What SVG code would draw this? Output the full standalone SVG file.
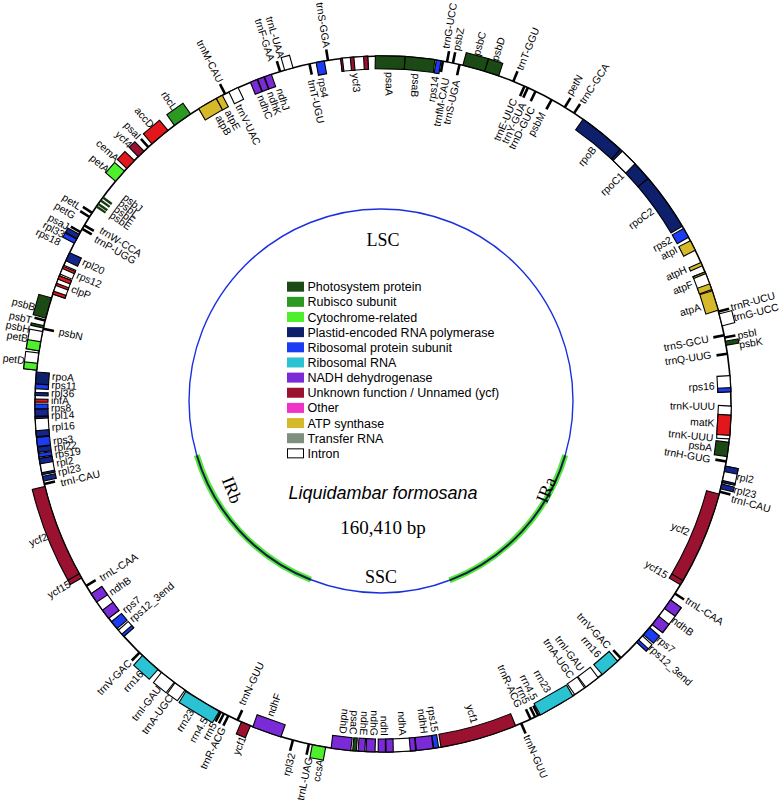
<svg xmlns="http://www.w3.org/2000/svg" xmlns:xlink="http://www.w3.org/1999/xlink" width="779" height="805" viewBox="0 0 779 805">
<style>
.bg{fill:#fff}
.ring{fill:none;stroke:#000;stroke-width:1.6}
.gn rect,.gn path{stroke:#000;stroke-width:1.1}
.tk{stroke:#000;stroke-width:2.6;fill:none}
.tg{stroke:#163a10;stroke-width:2.4;fill:none}
.ps{fill:#1b4a15}.rb{fill:#2c9a22}.cy{fill:#4ef02c}.po{fill:#0e1f6b}.rp{fill:#1b3cf2}.rl{fill:#14268c}
.rr{fill:#2bc3d3}.nd{fill:#7a2ad6}.yc{fill:#9b1230}.ot{fill:#e3161c}.at{fill:#d6b92a}.in{fill:#fff}
.lab text{font-family:"Liberation Sans",Arial,Helvetica,sans-serif;font-size:10.4px;dominant-baseline:central;fill:#000}
.s{text-anchor:start}.e{text-anchor:end}
.lg text{font-family:"Liberation Sans",Arial,sans-serif;font-size:12.5px}
.sr{font-family:"Liberation Serif","Times New Roman",serif;fill:#000;text-anchor:middle}
</style>
<defs>
<path id="to" d="M0-348V-359" class="tk"/>
<path id="ti" d="M0-348V-337" class="tk"/>
<path id="tg" d="M0-348V-337" class="tg"/>
</defs>
<rect class="bg" width="779" height="805"/>

<g id="inner">
<circle cx="381" cy="401" r="192" fill="none" stroke="#1a30e0" stroke-width="1.4"/>
<path d="M310.9 579.8A192 192 0 0 1 196.8 455.2" fill="none" stroke="#55e83a" stroke-width="6"/>
<path d="M565.2 455.2A192 192 0 0 1 449.5 580.4" fill="none" stroke="#55e83a" stroke-width="6"/>
<path d="M310.9 579.8A192 192 0 0 1 196.8 455.2" fill="none" stroke="#15204a" stroke-width="2"/>
<path d="M565.2 455.2A192 192 0 0 1 449.5 580.4" fill="none" stroke="#15204a" stroke-width="2"/>
<text class="sr" x="383" y="246" font-size="18">LSC</text>
<text class="sr" x="381" y="583" font-size="18">SSC</text>
<text class="sr" font-size="18" transform="translate(232,490) rotate(68)" dy="6">IRb</text>
<text class="sr" font-size="18" transform="translate(546,490) rotate(-68)" dy="6">IRa</text>
<text x="383" y="499" font-family="Liberation Sans, Arial, sans-serif" font-style="italic" font-size="18" text-anchor="middle">Liquidambar formosana</text>
<text class="sr" x="383" y="534" font-size="19">160,410 bp</text>
</g>

<g id="legend" class="lg">
<rect x="287" y="281.7" width="17" height="10" class="ps"/><text x="307.5" y="291.2">Photosystem protein</text>
<rect x="287" y="296.85" width="17" height="10" class="rb"/><text x="307.5" y="306.35">Rubisco subunit</text>
<rect x="287" y="312" width="17" height="10" class="cy"/><text x="307.5" y="321.5">Cytochrome-related</text>
<rect x="287" y="327.15" width="17" height="10" class="po"/><text x="307.5" y="336.65">Plastid-encoded RNA polymerase</text>
<rect x="287" y="342.3" width="17" height="10" class="rp"/><text x="307.5" y="351.8">Ribosomal protein subunit</text>
<rect x="287" y="357.45" width="17" height="10" class="rr"/><text x="307.5" y="366.95">Ribosomal RNA</text>
<rect x="287" y="372.6" width="17" height="10" class="nd"/><text x="307.5" y="382.1">NADH dehydrogenase</text>
<rect x="287" y="387.75" width="17" height="10" class="yc"/><text x="307.5" y="397.25">Unknown function / Unnamed (ycf)</text>
<rect x="287" y="402.9" width="17" height="10" fill="#f032c8"/><text x="307.5" y="412.4">Other</text>
<rect x="287" y="418.05" width="17" height="10" class="at"/><text x="307.5" y="427.55">ATP synthase</text>
<rect x="287" y="433.2" width="17" height="10" fill="#7f8f7f"/><text x="307.5" y="442.7">Transfer RNA</text>
<rect x="287.5" y="448.85" width="16" height="9" fill="#fff" stroke="#000" stroke-width="1"/><text x="307.5" y="457.85">Intron</text>
</g>

<g transform="translate(383,404)">
<circle r="348" class="ring"/>
<g id="genes" class="gn">
<rect x="-11.45" y="-361" width="22.9" height="13" class="ps" transform="rotate(15.15)"/>
<rect x="-7.4" y="-361" width="14.8" height="13" class="ps" transform="rotate(18.2)"/>
<rect x="-6.2" y="-361" width="12.4" height="13" class="in" transform="rotate(76)"/>
<rect x="-2.15" y="-361" width="4.3" height="13" class="ps" transform="rotate(79.95)"/>
<rect x="-8.35" y="-361" width="16.7" height="13" class="in" transform="rotate(101.65)"/>
<rect x="-2.8" y="-361" width="5.6" height="13" class="rl" transform="rotate(100.75)"/>
<rect x="-0.95" y="-361" width="1.9" height="13" class="rl" transform="rotate(102.85)"/>
<rect x="-2.45" y="-361" width="4.9" height="13" class="rl" transform="rotate(103.7)"/>
<rect x="-15.45" y="-361" width="30.9" height="13" class="in" transform="rotate(126.8)"/>
<rect x="-5.25" y="-361" width="10.5" height="13" class="nd" transform="rotate(125.15)"/>
<rect x="-5.25" y="-361" width="10.5" height="13" class="nd" transform="rotate(128.45)"/>
<rect x="-4.65" y="-361" width="9.3" height="13" class="rp" transform="rotate(130.75)"/>
<rect x="-4.35" y="-361" width="8.7" height="13" class="in" transform="rotate(132.5)"/>
<rect x="-1.55" y="-361" width="3.1" height="13" class="rp" transform="rotate(132.95)"/>
<rect x="-6.8" y="-361" width="13.6" height="13" class="cy" transform="rotate(190.6)"/>
<rect x="-4.95" y="-361" width="9.9" height="13" class="yc" transform="rotate(203.2)"/>
<rect x="-19.5" y="-361" width="39" height="13" class="rr" transform="rotate(211.25)"/>
<rect x="-6.2" y="-361" width="12.4" height="13" class="in" transform="rotate(215.7)"/>
<rect x="-8.05" y="-361" width="16.1" height="13" class="in" transform="rotate(218.2)"/>
<rect x="-10.5" y="-361" width="21" height="13" class="rr" transform="rotate(222)"/>
<rect x="-2.45" y="-361" width="4.9" height="13" class="yc" transform="rotate(240.4)"/>
<path d="M-48.68-357.7A361 361 0 0 1 48.68-357.7L46.93-344.82A348 348 0 0 0-46.93-344.82Z" class="yc" transform="rotate(248.55)"/>
<rect x="-8.65" y="-361" width="17.3" height="13" class="in" transform="rotate(277)"/>
<rect x="-3.4" y="-361" width="6.8" height="13" class="cy" transform="rotate(276.15)"/>
<rect x="-9.9" y="-361" width="19.8" height="13" class="in" transform="rotate(280.4)"/>
<rect x="-4.65" y="-361" width="9.3" height="13" class="cy" transform="rotate(279.55)"/>
<rect x="-1.25" y="-361" width="2.5" height="13" class="ps" transform="rotate(282.8)"/>
<rect x="-10.5" y="-361" width="21" height="13" class="ps" transform="rotate(286)"/>
<rect x="-2.45" y="-361" width="4.9" height="13" class="rp" transform="rotate(297.9)"/>
<rect x="-2.45" y="-361" width="4.9" height="13" class="rl" transform="rotate(298.8)"/>
<rect x="-6.8" y="-361" width="13.6" height="13" class="cy" transform="rotate(310.9)"/>
<rect x="-5.55" y="-361" width="11.1" height="13" class="ot" transform="rotate(313.5)"/>
<rect x="-4" y="-361" width="8" height="13" class="yc" transform="rotate(315.95)"/>
<rect x="-10.5" y="-361" width="21" height="13" class="ot" transform="rotate(320.1)"/>
<rect x="-9.9" y="-361" width="19.8" height="13" class="rb" transform="rotate(324.8)"/>
<rect x="-4.35" y="-361" width="8.7" height="13" class="in" transform="rotate(344.3)"/>
<rect x="-14.75" y="-348" width="29.5" height="13" class="ps" transform="rotate(1.175)"/>
<rect x="-14.75" y="-348" width="29.5" height="13" class="ps" transform="rotate(6.125)"/>
<rect x="-2.4" y="-348" width="4.8" height="13" class="rp" transform="rotate(9.2)"/>
<path d="M-23.97-347.17A348 348 0 0 1 23.97-347.17L23.08-334.2A335 335 0 0 0-23.08-334.2Z" class="po" transform="rotate(39.05)"/>
<path d="M-20.03-347.42A348 348 0 0 1 20.03-347.42L19.28-334.44A335 335 0 0 0-19.28-334.44Z" class="po" transform="rotate(46.3)"/>
<rect x="-8.95" y="-348" width="17.9" height="13" class="in" transform="rotate(44.9)"/>
<path d="M-29.42-346.75A348 348 0 0 1 29.42-346.75L28.32-333.8A335 335 0 0 0-28.32-333.8Z" class="po" transform="rotate(54.45)"/>
<rect x="-5.05" y="-348" width="10.1" height="13" class="rp" transform="rotate(60.55)"/>
<rect x="-5.35" y="-348" width="10.7" height="13" class="at" transform="rotate(62.9)"/>
<rect x="-1.8" y="-348" width="3.6" height="13" class="at" transform="rotate(66.3)"/>
<rect x="-9.25" y="-348" width="18.5" height="13" class="in" transform="rotate(69.25)"/>
<rect x="-0.9" y="-348" width="1.8" height="13" class="at" transform="rotate(67.85)"/>
<rect x="-3" y="-348" width="6" height="13" class="at" transform="rotate(70.3)"/>
<rect x="-10.15" y="-348" width="20.3" height="13" class="at" transform="rotate(72.7)"/>
<rect x="-8.05" y="-348" width="16.1" height="13" class="in" transform="rotate(86.65)"/>
<rect x="-2.1" y="-348" width="4.2" height="13" class="rp" transform="rotate(87.65)"/>
<rect x="-16.4" y="-348" width="32.8" height="13" class="in" transform="rotate(93.05)"/>
<rect x="-10.15" y="-348" width="20.3" height="13" class="ot" transform="rotate(93.5)"/>
<rect x="-7.15" y="-348" width="14.3" height="13" class="ps" transform="rotate(97.5)"/>
<path d="M-46.93-344.82A348 348 0 0 1 46.93-344.82L45.17-331.94A335 335 0 0 0-45.17-331.94Z" class="yc" transform="rotate(112.75)"/>
<rect x="-2.4" y="-348" width="4.8" height="13" class="yc" transform="rotate(120.9)"/>
<rect x="-10.15" y="-348" width="20.3" height="13" class="rr" transform="rotate(139.3)"/>
<rect x="-7.75" y="-348" width="15.5" height="13" class="in" transform="rotate(143.1)"/>
<rect x="-5.95" y="-348" width="11.9" height="13" class="in" transform="rotate(145.6)"/>
<rect x="-18.75" y="-348" width="37.5" height="13" class="rr" transform="rotate(150.05)"/>
<path d="M-38.79-345.83A348 348 0 0 1 38.79-345.83L37.34-332.91A335 335 0 0 0-37.34-332.91Z" class="yc" transform="rotate(164)"/>
<rect x="-2.4" y="-348" width="4.8" height="13" class="rp" transform="rotate(171.2)"/>
<rect x="-8.35" y="-348" width="16.7" height="13" class="nd" transform="rotate(173.1)"/>
<rect x="-14.6" y="-348" width="29.2" height="13" class="in" transform="rotate(177.05)"/>
<rect x="-2.7" y="-348" width="5.4" height="13" class="nd" transform="rotate(175.05)"/>
<rect x="-3.6" y="-348" width="7.2" height="13" class="nd" transform="rotate(178.9)"/>
<rect x="-3.6" y="-348" width="7.2" height="13" class="nd" transform="rotate(180.2)"/>
<rect x="-4.45" y="-348" width="8.9" height="13" class="nd" transform="rotate(182.05)"/>
<rect x="-3.3" y="-348" width="6.6" height="13" class="nd" transform="rotate(183.55)"/>
<rect x="-1.8" y="-348" width="3.6" height="13" class="ps" transform="rotate(184.7)"/>
<rect x="-9.85" y="-348" width="19.7" height="13" class="nd" transform="rotate(186.95)"/>
<rect x="-14.9" y="-348" width="29.8" height="13" class="nd" transform="rotate(199.5)"/>
<rect x="-4.15" y="-348" width="8.3" height="13" class="in" transform="rotate(228.8)"/>
<rect x="-1.5" y="-348" width="3" height="13" class="rp" transform="rotate(228.35)"/>
<rect x="-4.45" y="-348" width="8.9" height="13" class="rp" transform="rotate(230.55)"/>
<rect x="-14.9" y="-348" width="29.8" height="13" class="in" transform="rotate(234.5)"/>
<rect x="-5.05" y="-348" width="10.1" height="13" class="nd" transform="rotate(232.85)"/>
<rect x="-5.05" y="-348" width="10.1" height="13" class="nd" transform="rotate(236.15)"/>
<rect x="-2.4" y="-348" width="4.8" height="13" class="rl" transform="rotate(257.6)"/>
<rect x="-8.05" y="-348" width="16.1" height="13" class="in" transform="rotate(259.65)"/>
<rect x="-0.9" y="-348" width="1.8" height="13" class="rl" transform="rotate(258.45)"/>
<rect x="-2.7" y="-348" width="5.4" height="13" class="rl" transform="rotate(260.55)"/>
<rect x="-1.8" y="-348" width="3.6" height="13" class="rp" transform="rotate(261.5)"/>
<rect x="-2.7" y="-348" width="5.4" height="13" class="rl" transform="rotate(262.45)"/>
<rect x="-4.45" y="-348" width="8.9" height="13" class="rp" transform="rotate(263.75)"/>
<rect x="-9.85" y="-348" width="19.7" height="13" class="in" transform="rotate(266.25)"/>
<rect x="-3" y="-348" width="6" height="13" class="rl" transform="rotate(265.1)"/>
<rect x="-0.9" y="-348" width="1.8" height="13" class="rl" transform="rotate(267.75)"/>
<rect x="-3.6" y="-348" width="7.2" height="13" class="rl" transform="rotate(268.6)"/>
<rect x="-2.4" y="-348" width="4.8" height="13" class="rp" transform="rotate(269.6)"/>
<rect x="-1.5" y="-348" width="3" height="13" class="ot" transform="rotate(270.55)"/>
<rect x="-1.5" y="-348" width="3" height="13" class="rl" transform="rotate(271.65)"/>
<rect x="-2.4" y="-348" width="4.8" height="13" class="rp" transform="rotate(272.9)"/>
<rect x="-5.95" y="-348" width="11.9" height="13" class="po" transform="rotate(274.3)"/>
<rect x="-9.55" y="-348" width="19.1" height="13" class="in" transform="rotate(290)"/>
<rect x="-1.5" y="-348" width="3" height="13" class="ot" transform="rotate(288.65)"/>
<rect x="-1.2" y="-348" width="2.4" height="13" class="ot" transform="rotate(290.1)"/>
<rect x="-1.8" y="-348" width="3.6" height="13" class="ot" transform="rotate(291.3)"/>
<rect x="-4.75" y="-348" width="9.5" height="13" class="in" transform="rotate(292.7)"/>
<rect x="-1.2" y="-348" width="2.4" height="13" class="ot" transform="rotate(293.1)"/>
<rect x="-4.45" y="-348" width="8.9" height="13" class="rl" transform="rotate(295.05)"/>
<rect x="-10.15" y="-348" width="20.3" height="13" class="at" transform="rotate(329.7)"/>
<rect x="-3.3" y="-348" width="6.6" height="13" class="at" transform="rotate(331.95)"/>
<rect x="-5.05" y="-348" width="10.1" height="13" class="in" transform="rotate(334.55)"/>
<rect x="-3.6" y="-348" width="7.2" height="13" class="nd" transform="rotate(338.2)"/>
<rect x="-3.3" y="-348" width="6.6" height="13" class="nd" transform="rotate(339.45)"/>
<rect x="-3.6" y="-348" width="7.2" height="13" class="nd" transform="rotate(340.7)"/>
<rect x="-4.15" y="-348" width="8.3" height="13" class="rp" transform="rotate(349.6)"/>
<rect x="-13.4" y="-348" width="26.8" height="13" class="in" transform="rotate(355.25)"/>
<rect x="-0.9" y="-348" width="1.8" height="13" class="yc" transform="rotate(353.15)"/>
<rect x="-1.8" y="-348" width="3.6" height="13" class="yc" transform="rotate(354.9)"/>
<rect x="-2.1" y="-348" width="4.2" height="13" class="yc" transform="rotate(357.15)"/>
</g>
<g id="ticks">
<use xlink:href="#to" transform="rotate(10.6)"/><use xlink:href="#to" transform="rotate(11.6)"/><use xlink:href="#to" transform="rotate(22)"/>
<use xlink:href="#to" transform="rotate(31.5)"/><use xlink:href="#to" transform="rotate(33.3)"/><use xlink:href="#to" transform="rotate(74.6)"/>
<use xlink:href="#to" transform="rotate(79)"/><use xlink:href="#to" transform="rotate(104.6)"/><use xlink:href="#to" transform="rotate(123)"/>
<use xlink:href="#to" transform="rotate(156.6)"/><use xlink:href="#to" transform="rotate(192.3)"/><use xlink:href="#to" transform="rotate(195)"/>
<use xlink:href="#to" transform="rotate(206.4)"/><use xlink:href="#to" transform="rotate(207.2)"/><use xlink:href="#to" transform="rotate(207.8)"/>
<use xlink:href="#to" transform="rotate(224.4)"/><use xlink:href="#to" transform="rotate(283.9)"/><use xlink:href="#to" transform="rotate(299.6)"/>
<use xlink:href="#to" transform="rotate(302.5)"/><use xlink:href="#to" transform="rotate(303.3)"/><use xlink:href="#to" transform="rotate(317.6)"/>
<use xlink:href="#to" transform="rotate(333)"/><use xlink:href="#to" transform="rotate(342.8)"/><use xlink:href="#to" transform="rotate(350.9)"/>
<use xlink:href="#ti" transform="rotate(9.9)"/><use xlink:href="#ti" transform="rotate(12.7)"/><use xlink:href="#ti" transform="rotate(24)"/>
<use xlink:href="#ti" transform="rotate(24.6)"/><use xlink:href="#ti" transform="rotate(26)"/><use xlink:href="#ti" transform="rotate(29)"/>
<use xlink:href="#ti" transform="rotate(78.6)"/><use xlink:href="#ti" transform="rotate(81.7)"/><use xlink:href="#ti" transform="rotate(99.5)"/>
<use xlink:href="#ti" transform="rotate(136.9)"/><use xlink:href="#ti" transform="rotate(153.5)"/><use xlink:href="#ti" transform="rotate(154.1)"/>
<use xlink:href="#ti" transform="rotate(154.9)"/><use xlink:href="#ti" transform="rotate(204.7)"/><use xlink:href="#ti" transform="rotate(238.5)"/>
<use xlink:href="#ti" transform="rotate(256.7)"/><use xlink:href="#ti" transform="rotate(282.5)"/><use xlink:href="#ti" transform="rotate(300.2)"/>
<use xlink:href="#ti" transform="rotate(300.9)"/><use xlink:href="#tg" transform="rotate(304.6)"/><use xlink:href="#tg" transform="rotate(305.1)"/>
<use xlink:href="#tg" transform="rotate(305.8)"/><use xlink:href="#tg" transform="rotate(306.4)"/><use xlink:href="#ti" transform="rotate(347.8)"/>
</g>
<g id="labels" class="lab">
<text class="s" x="361" transform="rotate(-80)">trnG-UCC</text>
<text class="s" x="361" transform="rotate(-78.3)">psbZ</text>
<text class="s" x="361" transform="rotate(-75)">psbC</text>
<text class="s" x="361" transform="rotate(-72)">psbD</text>
<text class="s" x="361" transform="rotate(-67.8)">trnT-GGU</text>
<text class="s" x="361" transform="rotate(-59)">petN</text>
<text class="s" x="361" transform="rotate(-56.6)">trnC-GCA</text>
<text class="s" x="361" transform="rotate(-15.5)">trnR-UCU</text>
<text class="s" x="361" transform="rotate(-13.8)">trnG-UCC</text>
<text class="s" x="361" transform="rotate(-10.9)">psbI</text>
<text class="s" x="361" transform="rotate(-9.4)">psbK</text>
<text class="s" x="361" transform="rotate(11.6)">rpl2</text>
<text class="s" x="361" transform="rotate(13.7)">rpl23</text>
<text class="s" x="361" transform="rotate(15.2)">trnI-CAU</text>
<text class="s" x="361" transform="rotate(32.8)">trnL-CAA</text>
<text class="s" x="361" transform="rotate(36.6)">ndhB</text>
<text class="s" x="361" transform="rotate(40.4)">rps7</text>
<text class="s" x="361" transform="rotate(42.3)">rps12_3end</text>
<text class="s" x="361" transform="rotate(66.6)">trnN-GUU</text>
<text class="e" x="332" transform="rotate(-80.9)">rps14</text>
<text class="e" x="332" transform="rotate(-79.05)">trnfM-CAU</text>
<text class="e" x="332" transform="rotate(-77.2)">trnS-UGA</text>
<text class="e" x="332" transform="rotate(-66.7)">trnE-UUC</text>
<text class="e" x="332" transform="rotate(-65)">trnY-GUA</text>
<text class="e" x="332" transform="rotate(-63.3)">trnD-GUC</text>
<text class="e" x="332" transform="rotate(-61.2)">psbM</text>
<text class="e" x="332" transform="rotate(-50.5)">rpoB</text>
<text class="e" x="332" transform="rotate(-43.8)">rpoC1</text>
<text class="e" x="332" transform="rotate(-35.7)">rpoC2</text>
<text class="e" x="332" transform="rotate(-29.8)">rps2</text>
<text class="e" x="332" transform="rotate(-27.8)">atpI</text>
<text class="e" x="332" transform="rotate(-24)">atpH</text>
<text class="e" x="332" transform="rotate(-21.2)">atpF</text>
<text class="e" x="332" transform="rotate(-17)">atpA</text>
<text class="e" x="332" transform="rotate(-11.3)">trnS-GCU</text>
<text class="e" x="332" transform="rotate(-8.5)">trnQ-UUG</text>
<text class="e" x="332" transform="rotate(-3.1)">rps16</text>
<text class="e" x="332" transform="rotate(0.4)">trnK-UUU</text>
<text class="e" x="332" transform="rotate(3.3)">matK</text>
<text class="e" x="332" transform="rotate(5.9)">trnK-UUU</text>
<text class="e" x="332" transform="rotate(7.6)">psbA</text>
<text class="e" x="332" transform="rotate(9.6)">trnH-GUG</text>
<text class="e" x="332" transform="rotate(22.8)">ycf2</text>
<text class="e" x="332" transform="rotate(31.2)">ycf15</text>
<text class="e" x="332" transform="rotate(47.1)">trnV-GAC</text>
<text class="e" x="332" transform="rotate(49.4)">rrn16</text>
<text class="e" x="332" transform="rotate(53.2)">trnI-GAU</text>
<text class="e" x="332" transform="rotate(55.4)">trnA-UGC</text>
<text class="e" x="332" transform="rotate(60.1)">rrn23</text>
<text class="e" x="332" transform="rotate(62.8)">rrn4.5</text>
<text class="e" x="332" transform="rotate(64.3)">rrn5</text>
<text class="e" x="332" transform="rotate(65.8)">trnR-ACG</text>
<text class="e" x="332" transform="rotate(74)">ycf1</text>
<text class="e" x="332" transform="rotate(81)">rps15</text>
<text class="e" x="332" transform="rotate(82.9)">ndhH</text>
<text class="e" x="332" transform="rotate(86.6)">ndhA</text>
<text class="e" x="332" transform="rotate(89.8)">ndhI</text>
<text class="e" x="332" transform="rotate(91.6)">ndhG</text>
<text class="e" x="332" transform="rotate(93.4)">ndhE</text>
<text class="e" x="332" transform="rotate(95.2)">psaC</text>
<text class="e" x="332" transform="rotate(97)">ndhD</text>
<text class="e" x="-361" transform="rotate(280)">ccsA</text>
<text class="e" x="-361" transform="rotate(281.8)">trnL-UAG</text>
<text class="e" x="-361" transform="rotate(284.6)">rpl32</text>
<text class="e" x="-361" transform="rotate(292.8)">ycf1</text>
<text class="e" x="-361" transform="rotate(296.3)">trnR-ACG</text>
<text class="e" x="-361" transform="rotate(297.9)">rrn5</text>
<text class="e" x="-361" transform="rotate(299.5)">rrn4.5</text>
<text class="e" x="-361" transform="rotate(302)">rrn23</text>
<text class="e" x="-361" transform="rotate(306)">trnA-UGC</text>
<text class="e" x="-361" transform="rotate(308.3)">trnI-GAU</text>
<text class="e" x="-361" transform="rotate(312)">rrn16</text>
<text class="e" x="-361" transform="rotate(314.5)">trnV-GAC</text>
<text class="e" x="-361" transform="rotate(330.2)">ycf15</text>
<text class="e" x="-361" transform="rotate(338.5)">ycf2</text>
<text class="e" x="-361" transform="rotate(6.9)">petD</text>
<text class="e" x="-361" transform="rotate(10.4)">petB</text>
<text class="e" x="-361" transform="rotate(11.9)">psbH</text>
<text class="e" x="-361" transform="rotate(13.4)">psbT</text>
<text class="e" x="-361" transform="rotate(15.5)">psbB</text>
<text class="e" x="-361" transform="rotate(26.5)">rps18</text>
<text class="e" x="-361" transform="rotate(27.9)">rpl33</text>
<text class="e" x="-361" transform="rotate(29.3)">psaJ</text>
<text class="e" x="-361" transform="rotate(31.3)">petG</text>
<text class="e" x="-361" transform="rotate(33)">petL</text>
<text class="e" x="-361" transform="rotate(40.3)">petA</text>
<text class="e" x="-361" transform="rotate(42.6)">cemA</text>
<text class="e" x="-361" transform="rotate(45.6)">ycf4</text>
<text class="e" x="-361" transform="rotate(47.5)">psaI</text>
<text class="e" x="-361" transform="rotate(50.2)">accD</text>
<text class="e" x="-361" transform="rotate(54.8)">rbcL</text>
<text class="e" x="-361" transform="rotate(63.2)">trnM-CAU</text>
<text class="e" x="-361" transform="rotate(72)">trnF-GAA</text>
<text class="e" x="-361" transform="rotate(73.6)">trnL-UAA</text>
<text class="e" x="-361" transform="rotate(81)">trnS-GGA</text>
<text class="s" x="-332" transform="rotate(91.1)">psaA</text>
<text class="s" x="-332" transform="rotate(95.8)">psaB</text>
<text class="s" x="-332" transform="rotate(289.9)">ndhF</text>
<text class="s" x="-332" transform="rotate(295.2)">trnN-GUU</text>
<text class="s" x="-332" transform="rotate(319.4)">rps12_3end</text>
<text class="s" x="-332" transform="rotate(321.4)">rps7</text>
<text class="s" x="-332" transform="rotate(325.3)">ndhB</text>
<text class="s" x="-332" transform="rotate(328.3)">trnL-CAA</text>
<text class="s" x="-332" transform="rotate(346.2)">trnI-CAU</text>
<text class="s" x="-332" transform="rotate(348.1)">rpl23</text>
<text class="s" x="-332" transform="rotate(349.7)">rpl2</text>
<text class="s" x="-332" transform="rotate(351.2)">rps19</text>
<text class="s" x="-332" transform="rotate(352.4)">rpl22</text>
<text class="s" x="-332" transform="rotate(353.6)">rps3</text>
<text class="s" x="-332" transform="rotate(356)">rpl16</text>
<text class="s" x="-332" transform="rotate(358)">rpl14</text>
<text class="s" x="-332" transform="rotate(359.3)">rps8</text>
<text class="s" x="-332" transform="rotate(0.6)">infA</text>
<text class="s" x="-332" transform="rotate(1.9)">rpl36</text>
<text class="s" x="-332" transform="rotate(3.3)">rps11</text>
<text class="s" x="-332" transform="rotate(4.8)">rpoA</text>
<text class="s" x="-332" transform="rotate(12.6)">psbN</text>
<text class="s" x="-332" transform="rotate(20.3)">clpP</text>
<text class="s" x="-332" transform="rotate(22.9)">rps12</text>
<text class="s" x="-332" transform="rotate(25.4)">rpl20</text>
<text class="s" x="-332" transform="rotate(29.9)">trnP-UGG</text>
<text class="s" x="-332" transform="rotate(31.7)">trnW-CCA</text>
<text class="s" x="-332" transform="rotate(34.9)">psbE</text>
<text class="s" x="-332" transform="rotate(36.2)">psbF</text>
<text class="s" x="-332" transform="rotate(37.5)">psbL</text>
<text class="s" x="-332" transform="rotate(38.8)">psbJ</text>
<text class="s" x="-332" transform="rotate(60.2)">atpB</text>
<text class="s" x="-332" transform="rotate(62.1)">atpE</text>
<text class="s" x="-332" transform="rotate(64.2)">trnV-UAC</text>
<text class="s" x="-332" transform="rotate(68.3)">ndhC</text>
<text class="s" x="-332" transform="rotate(70.1)">ndhK</text>
<text class="s" x="-332" transform="rotate(71.8)">ndhJ</text>
<text class="s" x="-332" transform="rotate(77.5)">trnT-UGU</text>
<text class="s" x="-332" transform="rotate(79.3)">rps4</text>
<text class="s" x="-332" transform="rotate(85.2)">ycf3</text>
</g>
</g>
</svg>
